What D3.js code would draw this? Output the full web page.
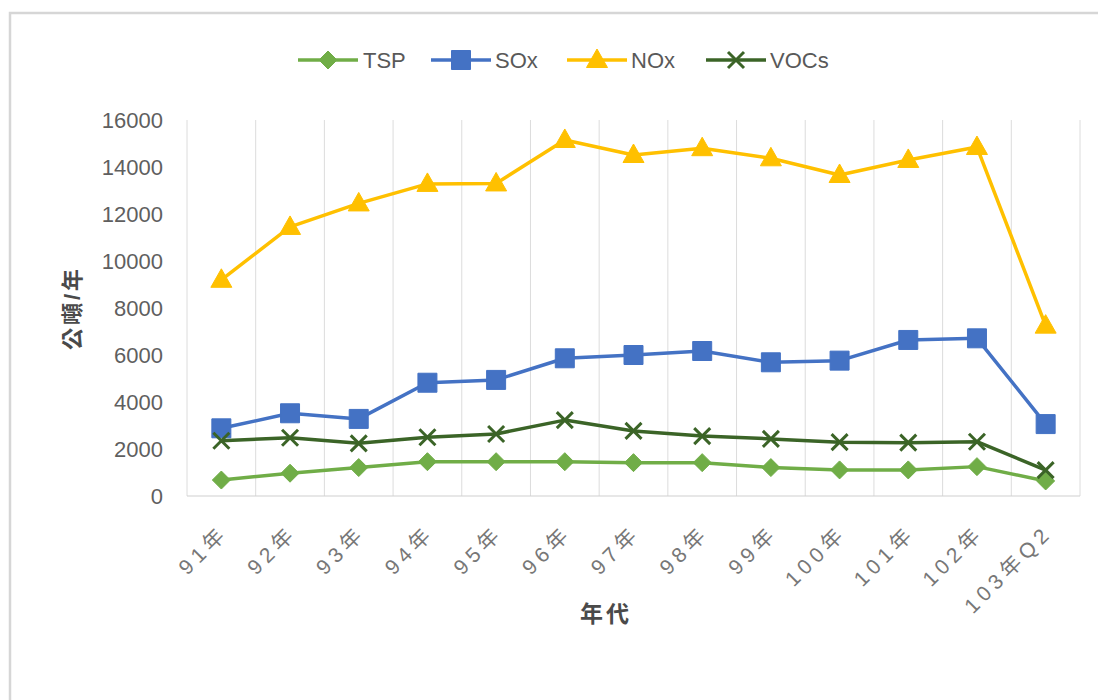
<!DOCTYPE html>
<html>
<head>
<meta charset="utf-8">
<script src="https://cdn.jsdelivr.net/npm/d3@7/dist/d3.min.js"></script>
<style>
  html, body { margin: 0; padding: 0; background: #fff; }
  svg { display: block; }
  text { font-family: "Liberation Sans", "Noto Sans CJK TC", sans-serif; }
</style>
</head>
<body>
<svg id="chart" width="1098" height="700"></svg>
<script>
// Annual emissions by pollutant (公噸/年)
const categories = ["91年", "92年", "93年", "94年", "95年", "96年", "97年", "98年", "99年", "100年", "101年", "102年", "103年Q2"];
const tsp  = [680, 970, 1210, 1460, 1460, 1460, 1420, 1420, 1210, 1110, 1110, 1250, 640];
const sox  = [2880, 3520, 3280, 4820, 4940, 5860, 6000, 6170, 5690, 5760, 6640, 6710, 3060];
const nox  = [9200, 11450, 12450, 13280, 13300, 15150, 14510, 14800, 14370, 13660, 14300, 14850, 7250];
const vocs = [2350, 2480, 2240, 2500, 2640, 3230, 2770, 2550, 2430, 2290, 2270, 2310, 1100];
const yTicks = [0, 2000, 4000, 6000, 8000, 10000, 12000, 14000, 16000];
const seriesNames = ["TSP", "SOx", "NOx", "VOCs"];

const series = [
  { name: seriesNames[0], values: tsp,  color: "#70ad47", marker: "diamond" },
  { name: seriesNames[1], values: sox,  color: "#4472c4", marker: "square" },
  { name: seriesNames[2], values: nox,  color: "#ffc000", marker: "triangle" },
  { name: seriesNames[3], values: vocs, color: "#3b6427", marker: "cross" }
];

const svg = d3.select("#chart");
const plot = { left: 187, right: 1080, top: 120, bottom: 496 };

// outer frame
svg.append("rect")
  .attr("x", 10).attr("y", 13).attr("width", 1100).attr("height", 700)
  .attr("fill", "none").attr("stroke", "#d6d6d6").attr("stroke-width", 2.5);

const x = d3.scaleBand().domain(categories).range([plot.left, plot.right]).padding(0);
const y = d3.scaleLinear().domain([0, 16000]).range([plot.bottom, plot.top]);
const cx = c => x(c) + x.bandwidth() / 2;

// vertical category gridlines
const bounds = categories.map(c => x(c)).concat([plot.right]);
svg.append("g").selectAll("line").data(bounds).join("line")
  .attr("x1", d => d).attr("x2", d => d)
  .attr("y1", plot.top).attr("y2", plot.bottom)
  .attr("stroke", "#dcdcdc").attr("stroke-width", 1);

// category axis line
svg.append("line")
  .attr("x1", plot.left).attr("x2", plot.right)
  .attr("y1", plot.bottom).attr("y2", plot.bottom)
  .attr("stroke", "#d0d0d0").attr("stroke-width", 1.2);

// value axis labels
const yAxis = d3.axisLeft(y).tickValues(yTicks).tickSize(0).tickPadding(0).tickFormat(d3.format("d"));
const yg = svg.append("g").attr("transform", `translate(${plot.left - 24},0)`).call(yAxis);
yg.select(".domain").remove();
yg.selectAll("text")
  .attr("fill", "#5f5f5f").attr("font-size", 22)
  .attr("font-family", "'Liberation Sans', sans-serif");

// category axis labels, rotated
const xAxis = d3.axisBottom(x).tickSize(0).tickPadding(0);
const xg = svg.append("g").attr("transform", `translate(0,${plot.bottom})`).call(xAxis);
xg.select(".domain").remove();
xg.selectAll("text")
  .attr("fill", "#777").attr("font-size", 21)
  .attr("letter-spacing", 5)
  .attr("text-anchor", "end")
  .attr("dy", 0)
  .attr("transform", "translate(8,38) rotate(-45)");

// axis titles
svg.append("text")
  .attr("transform", `translate(72,${(plot.top + plot.bottom) / 2}) rotate(-90)`)
  .attr("text-anchor", "middle").attr("dominant-baseline", "central")
  .attr("font-size", 22).attr("font-weight", "bold").attr("letter-spacing", 3)
  .attr("fill", "#4a4a4a")
  .attr("font-family", "'Noto Sans CJK TC', sans-serif")
  .text("公噸/年");

svg.append("text")
  .attr("x", 606).attr("y", 614)
  .attr("text-anchor", "middle").attr("dominant-baseline", "central")
  .attr("font-size", 23).attr("font-weight", "bold").attr("letter-spacing", 3)
  .attr("fill", "#4a4a4a")
  .attr("font-family", "'Noto Sans CJK TC', sans-serif")
  .text("年代");

// marker shapes
function markerPath(type) {
  switch (type) {
    case "diamond":  return "M0,-9L9,0L0,9L-9,0Z";
    case "square":   return "M-9.5,-9.5H9.5V9.5H-9.5Z";
    case "triangle": return "M0,-11L10.5,7.5H-10.5Z";
    case "cross":    return "M-8,-8L8,8M8,-8L-8,8";
  }
}
function drawMarker(g, type, color) {
  const p = g.append("path").attr("d", markerPath(type));
  if (type === "cross") {
    p.attr("fill", "none").attr("stroke", color).attr("stroke-width", 3);
  } else {
    p.attr("fill", color).attr("stroke", color).attr("stroke-width", 1);
  }
}

const line = d3.line().x((d, i) => cx(categories[i])).y(d => y(d));

series.forEach(s => {
  const g = svg.append("g");
  g.append("path").datum(s.values)
    .attr("d", line)
    .attr("fill", "none").attr("stroke", s.color)
    .attr("stroke-width", 3.5).attr("stroke-linejoin", "round");
  s.values.forEach((v, i) => {
    const m = g.append("g").attr("transform", `translate(${cx(categories[i])},${y(v)})`);
    drawMarker(m, s.marker, s.color);
  });
});

// legend
const legendItems = [
  { x: 298, textX: 363 },
  { x: 431, textX: 495 },
  { x: 567, textX: 631 },
  { x: 706, textX: 770 }
];
const legend = svg.append("g");
series.forEach((s, i) => {
  const lx = legendItems[i].x, ly = 60;
  legend.append("line")
    .attr("x1", lx).attr("x2", lx + 60).attr("y1", ly).attr("y2", ly)
    .attr("stroke", s.color).attr("stroke-width", 3.5);
  const m = legend.append("g").attr("transform", `translate(${lx + 30},${ly})`);
  drawMarker(m, s.marker, s.color);
  legend.append("text")
    .attr("x", legendItems[i].textX).attr("y", ly)
    .attr("dominant-baseline", "central")
    .attr("font-size", 22).attr("fill", "#595959")
    .text(s.name);
});
</script>
</body>
</html>
